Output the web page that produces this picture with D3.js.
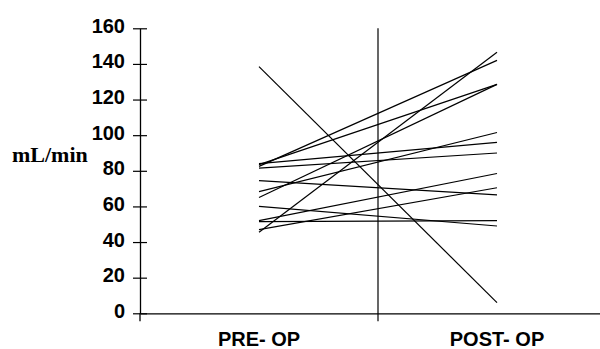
<!DOCTYPE html>
<html>
<head>
<meta charset="utf-8">
<script src="https://cdn.jsdelivr.net/npm/d3@7"></script>
<style>
  body { margin: 0; background: #fff; }
  svg { display: block; }
</style>
</head>
<body>
<svg id="chart" width="600" height="349"></svg>
<script>
// categories and values
const categories = ['PRE- OP', 'POST- OP'];
const preOp  = [138.5, 82.5, 45.5, 83.5, 65, 84, 81.5, 68.3, 52, 47, 74.5, 60, 51.5];
const postOp = [6, 142, 146.5, 128.5, 128.5, 96, 90, 101.5, 78.5, 70.5, 66.5, 49, 52];
const yTicks = [0, 20, 40, 60, 80, 100, 120, 140, 160];
const yLabel = 'mL/min';

const svg = d3.select('#chart');

const x = d3.scaleBand()
  .domain(categories)
  .range([140, 616])
  .paddingInner(0)
  .paddingOuter(0);

const y = d3.scaleLinear()
  .domain([0, 160])
  .range([313.3, 28.3]);

const cx = d => x(d) + x.bandwidth() / 2;

// y axis
const yAxis = svg.append('g')
  .attr('transform', 'translate(140,0)')
  .call(d3.axisLeft(y).tickValues(yTicks).tickSizeInner(7).tickSizeOuter(0).tickPadding(8));

yAxis.selectAll('.tick line').attr('x1', 7).attr('stroke-width', 1.2);
yAxis.select('.domain').attr('stroke-width', 1.3);
yAxis.selectAll('.tick text')
  .attr('font-family', 'Liberation Sans, Arial, sans-serif')
  .attr('font-weight', 'bold')
  .attr('font-size', 20)
  .attr('dy', '0.2em')
  .attr('fill', '#000');

// little stub of the y axis under the x axis
svg.append('line')
  .attr('x1', 140).attr('x2', 140)
  .attr('y1', y(0)).attr('y2', y(0) + 8)
  .attr('stroke', '#000').attr('stroke-width', 1.3);

// x axis
const xAxis = svg.append('g')
  .attr('transform', `translate(0,${y(0)})`)
  .call(d3.axisBottom(x).tickSize(0).tickPadding(19));

xAxis.select('.domain').attr('stroke-width', 1.3);
xAxis.selectAll('.tick text')
  .attr('font-family', 'Liberation Sans, Arial, sans-serif')
  .attr('font-weight', 'bold')
  .attr('font-size', 20)
  .attr('fill', '#000');

// divider between the two groups
svg.append('line')
  .attr('x1', x(categories[1])).attr('x2', x(categories[1]))
  .attr('y1', y(160)).attr('y2', y(0) + 8)
  .attr('stroke', '#000').attr('stroke-width', 1.2);

// y label
svg.append('text')
  .attr('x', 12)
  .attr('y', 162)
  .attr('font-family', 'Liberation Serif, Times New Roman, serif')
  .attr('font-weight', 'bold')
  .attr('font-size', 22)
  .text(yLabel);

// one line per patient
const pairs = preOp.map((v, i) => [v, postOp[i]]);

svg.append('g')
  .selectAll('line')
  .data(pairs)
  .join('line')
  .attr('x1', cx(categories[0]))
  .attr('x2', cx(categories[1]))
  .attr('y1', d => y(d[0]))
  .attr('y2', d => y(d[1]))
  .attr('stroke', '#000')
  .attr('stroke-width', 1.2);
</script>
</body>
</html>
